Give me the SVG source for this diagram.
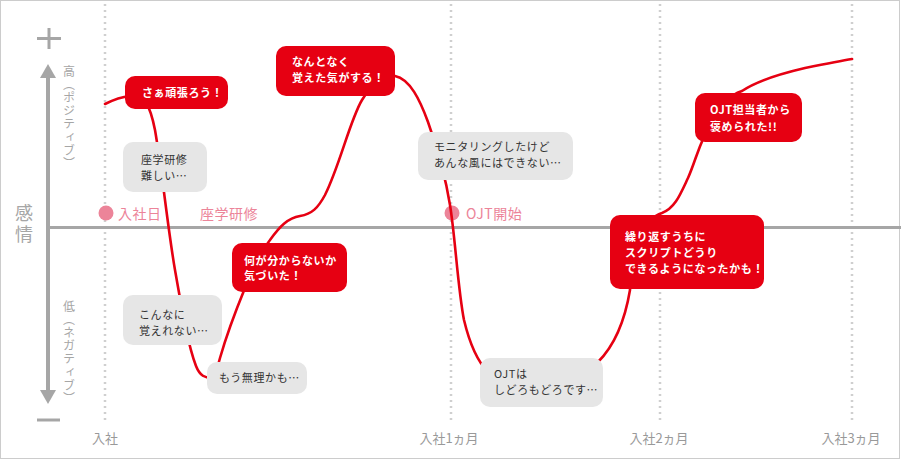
<svg xmlns="http://www.w3.org/2000/svg" width="901" height="460" viewBox="0 0 901 460">
<style>
.jp{font-family:"Noto Sans CJK JP","Noto Sans",sans-serif}
.grid{stroke:#cfcfcf;stroke-width:2.5;stroke-dasharray:2 4;fill:none}
.axis{stroke:#a6a6a6;fill:none}
.tick{font-size:13px;fill:#999;text-anchor:middle}
.pol{font-size:12px;fill:#a6a6a6;writing-mode:vertical-rl;letter-spacing:1.2px}
.evt{font-size:14px;fill:#ec8499;letter-spacing:0.5px}
.dot{fill:#ec8499}
.curve{stroke:#e60012;stroke-width:2.6;fill:none;stroke-linecap:round}
.gbox{fill:#e6e6e6}
.rbox{fill:#e60012}
.gt{font-size:11px;fill:#333;letter-spacing:0.6px}
.rt{font-size:11px;fill:#fff;font-weight:bold;letter-spacing:0.6px}
</style>
<rect x="0.5" y="0.5" width="899" height="458" fill="#fff" stroke="#cccccc"/>
<g id="grid">
<line class="grid" x1="105" y1="4" x2="105" y2="423"/>
<line class="grid" x1="451" y1="4" x2="451" y2="423"/>
<line class="grid" x1="660" y1="4" x2="660" y2="423"/>
<line class="grid" x1="852" y1="4" x2="852" y2="423"/>
</g>
<g id="axes">
<line class="axis" x1="48" y1="227.5" x2="901" y2="227.5" stroke-width="3"/>
<line class="axis" x1="48" y1="76" x2="48" y2="392" stroke-width="4"/>
<polygon points="48,64 56,78 40,78" fill="#a6a6a6"/>
<polygon points="48,404 56,390 40,390" fill="#a6a6a6"/>
<line class="axis" x1="37" y1="38.5" x2="61" y2="38.5" stroke-width="3"/>
<line class="axis" x1="49" y1="28" x2="49" y2="49" stroke-width="3"/>
<line class="axis" x1="37" y1="420" x2="60" y2="420" stroke-width="3"/>
<text class="jp" x="24" y="204" font-size="18" fill="#a6a6a6" style="writing-mode:vertical-rl;letter-spacing:3px">感情</text>
<text class="jp pol" x="69" y="65">高（ポジティブ）</text>
<text class="jp pol" x="69" y="300">低（ネガティブ）</text>
</g>
<g id="ticks">
<text class="jp tick" x="105" y="443">入社</text>
<text class="jp tick" x="449" y="443">入社1ヵ月</text>
<text class="jp tick" x="659" y="443">入社2ヵ月</text>
<text class="jp tick" x="851" y="443">入社3ヵ月</text>
</g>
<g id="events">
<circle class="dot" cx="106" cy="213" r="7.5"/>
<text class="jp evt" x="118" y="219">入社日</text>
<text class="jp evt" x="200" y="219">座学研修</text>
<circle class="dot" cx="452" cy="213" r="7.5"/>
<text class="jp evt" x="466" y="219">OJT開始</text>
</g>
<g id="connectors">
<path class="curve" d="M105,104 C113,100 120,97 130,96 C145,95 150,105 155,130 C162,170 168,230 175,270 C182,310 188,345 196,366 C200,376 205,378 212,378 C216,378 217,368 220,358 C228,330 236,310 245,288 C255,262 262,250 270,240 C280,226 288,218 300,216 C312,214 318,208 325,195 C340,165 350,120 362,100 C372,84 382,74 395,76 C410,79 420,100 428,122 C438,150 446,180 450,205 C455,235 458,290 464,320 C470,345 478,362 488,372 C520,395 580,385 598,362 C615,345 625,320 630,290 C632,250 645,218 662,213 C675,208 680,195 688,178 C696,160 700,140 712,122 C720,105 730,95 742,91 C755,82 775,75 805,68 C825,64 840,61 852,59"/>
</g>
<g id="n1">
<rect class="rbox" x="125" y="76" width="103" height="33" rx="10"/>
<text class="jp rt" x="142" y="97">さぁ頑張ろう！</text>
</g>
<g id="n2">
<rect class="gbox" x="123" y="142" width="84" height="50" rx="10"/>
<text class="jp gt" x="141" y="164">座学研修</text>
<text class="jp gt" x="141" y="180">難しい…</text>
</g>
<g id="n3">
<rect class="gbox" x="123" y="295" width="99" height="50" rx="10"/>
<text class="jp gt" x="139" y="319">こんなに</text>
<text class="jp gt" x="139" y="335">覚えれない…</text>
</g>
<g id="n4">
<rect class="gbox" x="207" y="362" width="100" height="32" rx="10"/>
<text class="jp gt" x="219" y="382">もう無理かも…</text>
</g>
<g id="n5">
<rect class="rbox" x="232" y="243" width="115" height="49" rx="10"/>
<text class="jp rt" x="244" y="265">何が分からないか</text>
<text class="jp rt" x="244" y="280">気づいた！</text>
</g>
<g id="n6">
<rect class="rbox" x="276" y="46" width="119" height="50" rx="10"/>
<text class="jp rt" x="292" y="66">なんとなく</text>
<text class="jp rt" x="292" y="82">覚えた気がする！</text>
</g>
<g id="n7">
<rect class="gbox" x="418" y="132" width="155" height="48" rx="10"/>
<text class="jp gt" x="434" y="151">モニタリングしたけど</text>
<text class="jp gt" x="434" y="167">あんな風にはできない…</text>
</g>
<g id="n8">
<rect class="gbox" x="480" y="358" width="123" height="49" rx="10"/>
<text class="jp gt" x="494" y="378">OJTは</text>
<text class="jp gt" x="494" y="394">しどろもどろです…</text>
</g>
<g id="n9">
<rect class="rbox" x="610" y="215" width="154" height="74" rx="10"/>
<text class="jp rt" x="625" y="241">繰り返すうちに</text>
<text class="jp rt" x="625" y="257">スクリプトどうり</text>
<text class="jp rt" x="625" y="273">できるようになったかも！</text>
</g>
<g id="n10">
<rect class="rbox" x="695" y="93" width="107" height="49" rx="10"/>
<text class="jp rt" x="710" y="114">OJT担当者から</text>
<text class="jp rt" x="710" y="131">褒められた!!</text>
</g>
</svg>
